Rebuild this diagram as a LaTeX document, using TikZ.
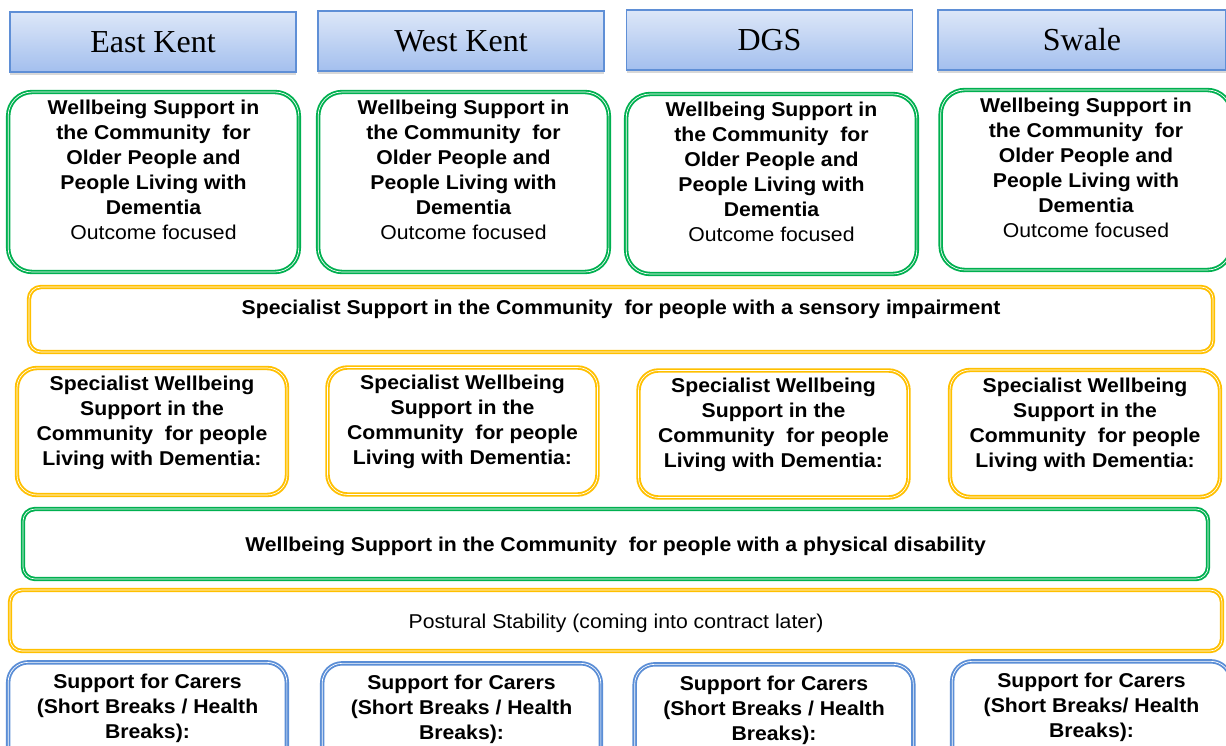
\documentclass[tikz,border=0pt]{standalone}
\usepackage{fontspec}
\setmainfont{Liberation Sans}[FakeStretch=1.06]
\newfontfamily\headfont{Liberation Serif}
\usetikzlibrary{positioning,shadows}

\definecolor{hdtop}{HTML}{DDE7F8}
\definecolor{hdbot}{HTML}{A3BFEE}
\definecolor{hdline}{HTML}{5F8FD6}
\definecolor{wellgreen}{HTML}{00B050}
\definecolor{specyellow}{HTML}{FFC000}
\definecolor{carerblue}{HTML}{5B8ED6}

\tikzset{
  area/.style={draw=hdline, line width=1pt, top color=hdtop, bottom color=hdbot,
    minimum width=214.5pt, minimum height=45pt, inner sep=0pt,
    drop shadow={shadow xshift=0pt, shadow yshift=-2pt, opacity=0.3},
    font=\headfont\fontsize{24}{26}\selectfont},
  framed/.style={line width=1.4pt, double=white, double distance=0.5pt, fill=white, inner sep=0pt},
  wellbox/.style={framed, draw=wellgreen, rounded corners=18pt, minimum width=218pt, minimum height=135pt},
  dembox/.style={framed, draw=specyellow, rounded corners=15pt, minimum width=202.5pt, minimum height=95.25pt},
  carerbox/.style={framed, draw=carerblue, rounded corners=15pt, minimum width=209pt, minimum height=82pt},
  bar/.style={framed, rounded corners=9pt},
  boxtext/.style={align=center, inner sep=0pt, font=\fontsize{15}{18.75}\selectfont\bfseries}
}

\begin{document}
\begin{tikzpicture}[x=0.75pt, y=-0.75pt]
  \useasboundingbox[fill=white] (0,0) rectangle (1226,745);

  % area headings
  \node[area] (ekhead) at (153,42) {\raisebox{-2pt}{East Kent}};
  \node[area] (wkhead) at (461,41) {\raisebox{-2pt}{West Kent}};
  \node[area] (dgshead) at (769.5,40) {\raisebox{-2pt}{DGS}};
  \node[area, minimum width=216pt] (swhead) at (1082,40) {\raisebox{-2pt}{Swale}};

  % wellbeing support, older people
  \node[wellbox] (ekwell) at (153.5,182) {};
  \node[wellbox] (wkwell) at (463.5,182) {};
  \node[wellbox] (dgswell) at (771.5,184) {};
  \node[wellbox] (swwell) at (1086,180) {};
  \foreach \n in {ekwell,wkwell,dgswell,swwell}
    \node[boxtext, below=6.5pt of \n.north] (\n txt) {Wellbeing Support in\\the Community~ for\\Older People and\\People Living with\\Dementia\\\mdseries Outcome focused};

  % sensory impairment
  \node[bar, draw=specyellow, minimum width=888pt, minimum height=48.75pt] (sensory) at (621,319.5) {};
  \node[boxtext, below=10pt of sensory.north] (sensorytxt) {Specialist Support in the Community~ for people with a sensory impairment};

  % specialist dementia support
  \node[dembox] (ekdem) at (152,431.5) {};
  \node[dembox] (wkdem) at (462.5,431) {};
  \node[dembox] (dgsdem) at (773.5,434) {};
  \node[dembox] (swdem) at (1085,433.5) {};
  \foreach \n in {ekdem,wkdem,dgsdem,swdem}
    \node[boxtext, below=6.5pt of \n.north] (\n txt) {Specialist Wellbeing\\Support in the\\Community~ for people\\Living with Dementia:};

  % physical disability
  \node[bar, draw=wellgreen, minimum width=888.75pt, minimum height=52.5pt] (physical) at (615.5,544) {};
  \node[boxtext] (physicaltxt) at (615.5,546) {Wellbeing Support in the Community~ for people with a physical disability};

  % postural stability
  \node[bar, draw=specyellow, minimum width=909pt, minimum height=45.75pt] (postural) at (616,620.5) {};
  \node[boxtext, font=\fontsize{15}{18.75}\selectfont] (posturaltxt) at (616,623) {Postural Stability (coming into contract later)};

  % carers
  \node[carerbox] (ekcarer) at (147.5,717) {};
  \node[carerbox] (wkcarer) at (461.5,718) {};
  \node[carerbox] (dgscarer) at (774,719) {};
  \node[carerbox] (swcarer) at (1091.5,716) {};
  \node[boxtext, below=9.5pt of ekcarer.north] (ekcarertxt) {Support for Carers\\(Short Breaks / Health\\Breaks):};
  \node[boxtext, below=9.5pt of wkcarer.north] (wkcarertxt) {Support for Carers\\(Short Breaks / Health\\Breaks):};
  \node[boxtext, below=9.5pt of dgscarer.north] (dgscarertxt) {Support for Carers\\(Short Breaks / Health\\Breaks):};
  \node[boxtext, below=9.5pt of swcarer.north] (swcarertxt) {Support for Carers\\(Short Breaks/ Health\\Breaks):};
\end{tikzpicture}
\end{document}
